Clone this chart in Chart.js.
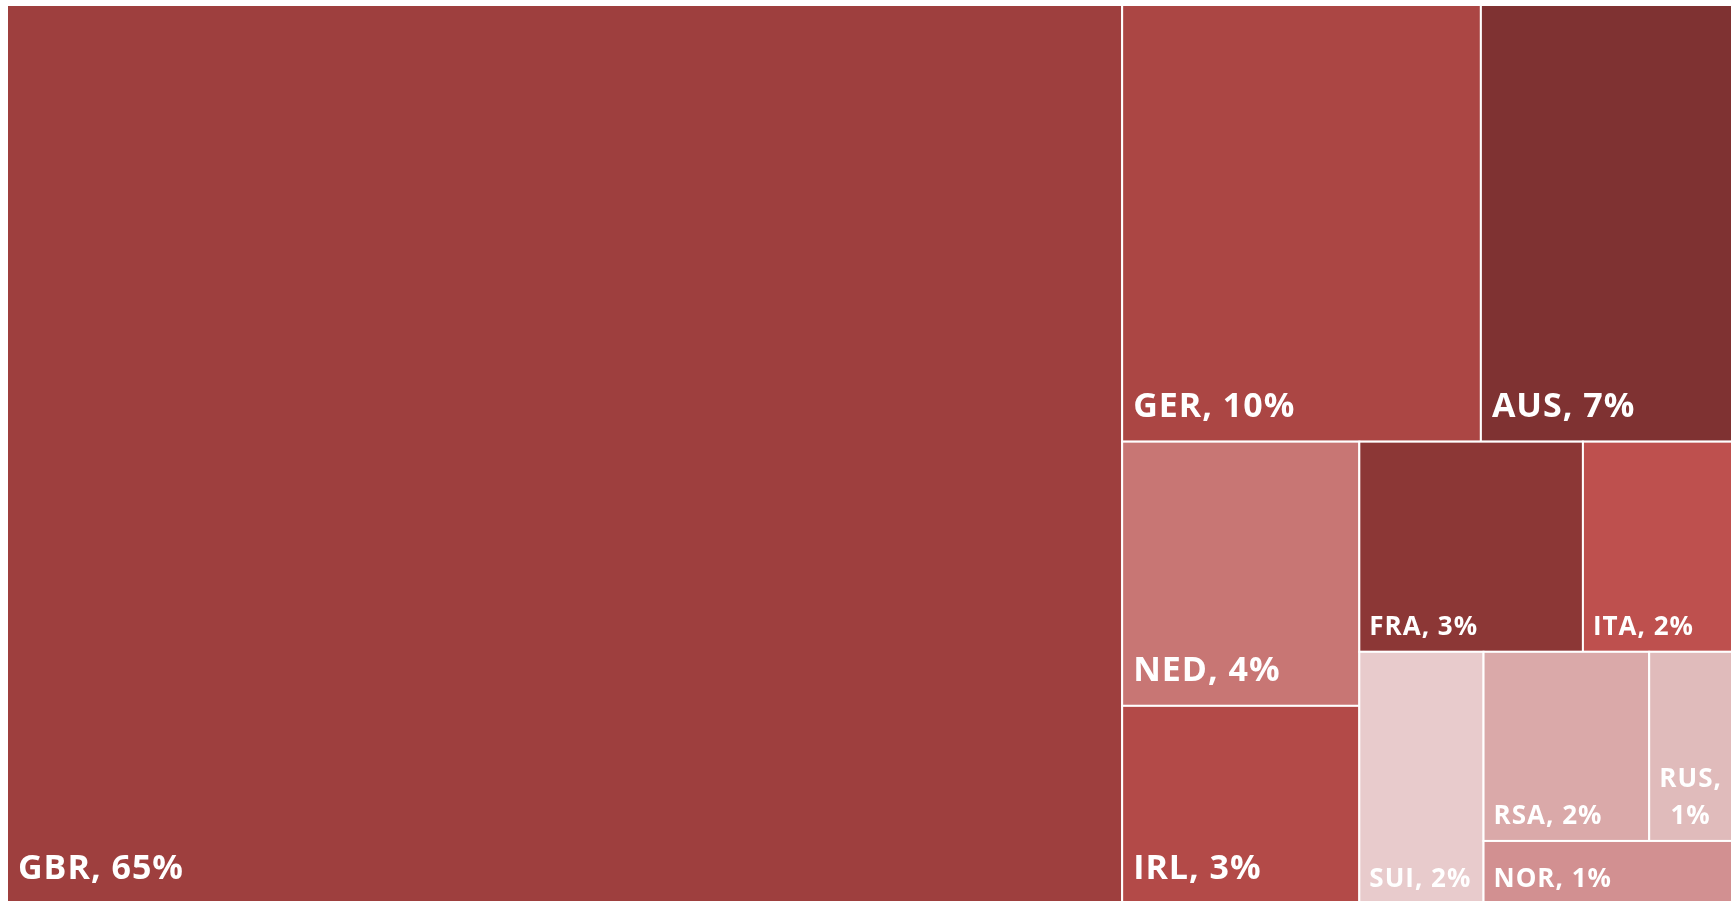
<!DOCTYPE html>
<html>
<head>
<meta charset="utf-8">
<script src="https://cdn.jsdelivr.net/npm/chart.js@4.4.1/dist/chart.umd.min.js"></script>
<style>
    html, body { margin: 0; padding: 0; background: #fff; overflow: hidden; }
    #wrap { width: 1735px; height: 904px; }
</style>
</head>
<body>
<div id="wrap"><canvas id="tree"></canvas></div>
<script>
// Treemap data (share by country)
const countries = ['GBR', 'GER', 'AUS', 'NED', 'IRL', 'FRA', 'ITA', 'SUI', 'RSA', 'RUS', 'NOR'];
const counts = [64, 10, 7, 4, 3, 3, 2, 2, 2, 1, 1];
const colours = ['#9e3f3e', '#ab4644', '#7f3232', '#c87674', '#b34a48', '#8c3736', '#be504e', '#e8cbcc', '#daa9a9', '#e0bbbb', '#d29091'];

const total = counts.reduce((s, v) => s + v, 0);

// squarified layout in scale units (0..1), pxW/pxH give the pixel aspect
function squarify(values, pxW, pxH) {
    const cells = [];
    let x = 0, y = 0, w = 1, h = 1;
    let remaining = values.reduce((s, v) => s + v, 0);
    let i = 0;

    function avgRatio(row, wide) {
        const rowSum = row.reduce((s, j) => s + values[j], 0);
        const f = rowSum / remaining;
        let sum = 0;
        row.forEach(j => {
            let a, b;
            if (wide) { a = w * f * pxW; b = h * values[j] / rowSum * pxH; }
            else { a = w * values[j] / rowSum * pxW; b = h * f * pxH; }
            sum += Math.max(a, b) / Math.min(a, b);
        });
        return sum / row.length;
    }

    while (i < values.length) {
        const wide = w * pxW >= h * pxH;
        let row = [i];
        let best = avgRatio(row, wide);
        while (i + row.length < values.length) {
            const next = row.concat(i + row.length);
            const r = avgRatio(next, wide);
            if (r < best * 0.95) { row = next; best = r; } else break;
        }
        const rowSum = row.reduce((s, j) => s + values[j], 0);
        const f = rowSum / remaining;
        if (wide) {
            const sw = w * f;
            let cy = y;
            row.forEach(j => {
                const ch = h * values[j] / rowSum;
                cells[j] = { x0: x, x1: x + sw, y0: cy, y1: cy + ch };
                cy += ch;
            });
            x += sw; w -= sw;
        } else {
            const sh = h * f;
            let cx = x;
            row.forEach(j => {
                const cw = w * values[j] / rowSum;
                cells[j] = { x0: cx, x1: cx + cw, y0: y, y1: y + sh };
                cx += cw;
            });
            y += sh; h -= sh;
        }
        remaining -= rowSum;
        i += row.length;
    }
    return cells;
}

const treemapPlugin = {
    id: 'treemapCells',
    afterLayout(chart) {
        const area = chart.chartArea;
        chart.$cells = squarify(counts, area.right - area.left, area.bottom - area.top);
    },
    afterDatasetsDraw(chart) {
        const ctx = chart.ctx;
        const xs = chart.scales.x, ys = chart.scales.y;
        ctx.save();
        chart.$cells.forEach((c, i) => {
            const left = xs.getPixelForValue(c.x0), right = xs.getPixelForValue(c.x1);
            const top = ys.getPixelForValue(c.y0), bottom = ys.getPixelForValue(c.y1);
            ctx.fillStyle = colours[i];
            ctx.fillRect(left, top, right - left, bottom - top);
            ctx.strokeStyle = '#ffffff';
            ctx.lineWidth = 2;
            ctx.strokeRect(left, top, right - left, bottom - top);

            // label: bigger text in the large cells
            const big = right - left >= 230 && bottom - top >= 100;
            const size = big ? 34 : 26;
            const pad = big ? 11 : 10;
            const lift = big ? 25 : 17;
            const text = `${countries[i]}, ${Math.round(counts[i] / total * 100)}%`;
            ctx.font = `bold ${size}px "Open Sans", "DejaVu Sans", sans-serif`;
            ctx.letterSpacing = '1px';
            ctx.fillStyle = '#ffffff';
            ctx.textBaseline = 'alphabetic';
            if (ctx.measureText(text).width <= right - left - 2 * pad) {
                ctx.textAlign = 'left';
                ctx.fillText(text, left + pad, bottom - lift);
            } else {
                const lines = text.split(' ');
                ctx.textAlign = 'center';
                lines.forEach((ln, k) => {
                    ctx.fillText(ln, (left + right) / 2, bottom - lift - (lines.length - 1 - k) * 37);
                });
            }
        });
        ctx.restore();
    }
};

new Chart(document.getElementById('tree'), {
    type: 'scatter',
    data: { datasets: [{ data: [], pointRadius: 0 }] },
    options: {
        responsive: true,
        maintainAspectRatio: false,
        animation: false,
        layout: { padding: { left: 7, top: 5, right: 3, bottom: 0 } },
        plugins: { legend: { display: false }, tooltip: { enabled: false } },
        scales: {
            x: { type: 'linear', min: 0, max: 1, display: false },
            y: { type: 'linear', min: 0, max: 1, reverse: true, display: false }
        }
    },
    plugins: [treemapPlugin]
});
</script>
</body>
</html>
